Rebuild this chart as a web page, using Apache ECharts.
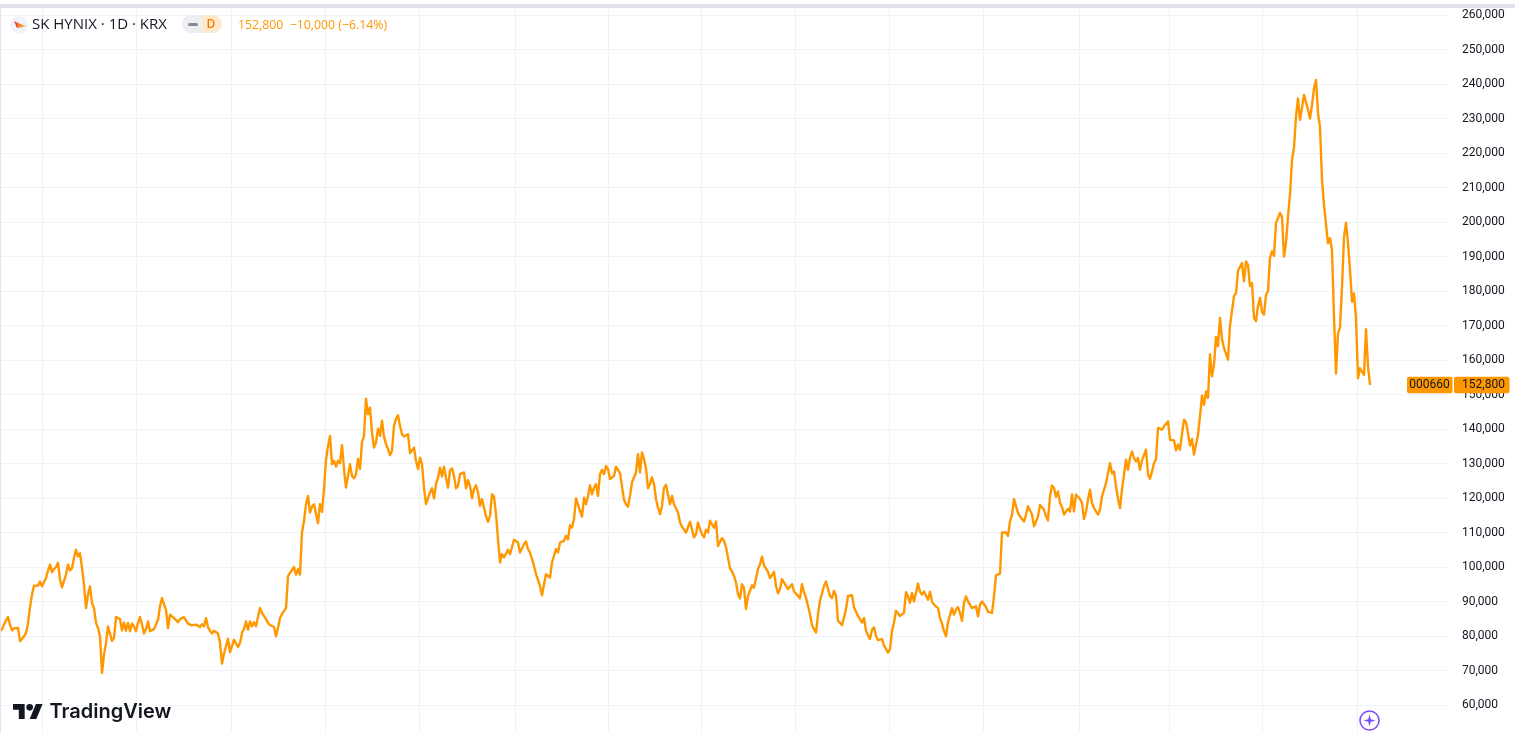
<!DOCTYPE html>
<html>
<head>
<meta charset="utf-8">
<title>SK HYNIX 1D KRX</title>
<script src="https://cdn.jsdelivr.net/npm/echarts@6/dist/echarts.min.js"></script>
<style>
  html, body { margin: 0; padding: 0; background: #fff; overflow: hidden; }
  #chart { width: 1515px; height: 732px; }
</style>
</head>
<body>
<div id="chart"></div>
<script>
// daily close in thousands of KRW
const closesK = [
  81.4,82,83.3,84.5,85.5,83.3,81.6,82.2,82.6,82.3,78.5,78.2,79.9,80.8,83.8,88.3,92,94.6,94.4,94.6,
  95.8,94.4,94.2,96.8,99,100.7,98.5,99.4,100,101.2,96.3,94.1,93.7,97.8,100.7,99,99.7,102.6,105,103.1,
  104,99.7,94.9,88.1,92,94.4,89.6,88.1,83.8,82.3,79.9,69.3,74.6,78,82.8,83.3,78.6,79.4,85.5,85.2,
  84.9,81.6,83.9,81.5,83.8,81.4,83.6,82.8,81.4,83.8,85.5,83.3,80.7,82,84.2,81.4,81.8,82,81.8,84.7,
  88.6,91,91,87.6,82.3,86.2,86.2,85.2,85.2,84,84.9,84.7,85.5,85.2,83.6,83.1,83.1,83,83.3,83.8,
  82.6,83.4,82.8,85.2,82.5,81.5,80.7,81.5,81.4,80.7,78,72,74.9,77,79.2,75.3,75.5,78.9,79.4,76.8,
  78,80.9,82.1,84.2,81.8,84.2,82.8,84,82.8,83,88.1,86.7,87.1,84.9,83.8,83.2,83,82.6,79.9,82.3,
  85.2,86.4,86.7,88.1,97.3,98.3,98.3,100,97.8,99.4,97.8,
  110,113.4,118.2,120.6,115.8,117.5,118.2,118.2,112.7,118.2,116,122.6,131,135.1,138,129.8,130.8,129.1,130.8,130.1,
  135.3,128.4,123,126.4,129.8,126.4,125.7,126.9,131.3,128.4,136.1,138,148.8,144.3,146.2,139,134.6,136.1,140.1,138,
  142.4,137.8,135.6,134.2,132.4,133.7,140.9,143,144,140.9,138.5,137.8,138.2,138.5,133,132.7,134.6,130.8,128.4,131.7,
  129.8,123,118.2,117.7,121.6,122.8,119.9,124,125.9,128.8,126.2,129.1,125.9,123,127.9,128.6,126.4,122.8,123.5,126.9,
  126.9,127.4,122.8,125.2,123.5,119.9,122.6,123.7,121.6,117.7,119.7,117.2,114.8,113.1,114.8,121.1,120.4,115.3,108.1,101.3,
  103.7,102.8,103.2,105,103.7,104,107.9,107.8,107.1,104.2,104.2,106.6,107.4,105.2,104.2,103.7,100.3,97.9,96.3,94.5,
  91.8,95,97.9,97.4,96.9,101.3,101.8,105.2,104.2,107.1,106.6,107.6,109,108,112.1,111.4,113.9,119.9,119.7,116.3,
  114.6,120.1,118.2,120.6,123.7,121.1,123,124,120.6,126.9,
  128.2,126.9,129.3,128.4,125.5,125,126.4,129.1,128.6,127.2,126.9,119.5,118.2,117.5,120.6,124.5,124.5,127.4,132.7,127.4,
  133.2,131.3,128.6,122.8,124,126,124,119.7,117.2,115.3,117.7,123,123.8,123.8,118.2,120.6,118.2,117,115.8,112.9,
  111.7,111.7,110,110,113.1,112.9,108.6,109.5,112.9,111,109.5,108.6,110.8,110,113.4,113.9,111.4,113.2,106.1,105.7,
  108.4,107.6,105.7,105.7,99.6,98.7,97.4,95.5,92.1,90.9,95,94,87.8,91.6,93.1,94.7,94,94.3,99.4,100.8,
  103,100.5,100.5,98.6,96.8,97.6,98.6,94.5,92.4,93.6,96.5,97,94.5,93.6,93.4,95,92.9,92.3,91.8,90.9,
  95,92.6,91.1,88.7,86.3,83.1,82,81,86.3,90.2,90.4,94.5,95.8,96,91.6,91,93.1,91.6,84.4,83.9,
  83.1,85.4,87.8,91.6,91.6,91.8,88.3,87.8,85.8,86.3,83.9,85.2,81.5,80.2,79.1,81.8,82.5,80,78.8,78.6,
  79.1,77.3,77,75.2,76.2,81.5,83.9,87.3,86.8,85.8,
  85.7,86.7,92.7,91.5,89.6,92.5,90,92.5,95.2,92.9,92,92.9,92.5,90.5,92.8,89.9,89.1,88.6,88.1,85.2,
  83.6,81.4,79.9,84,84.5,88.1,86.2,87.6,88.4,86.7,84.4,89.6,91.5,90,89.1,88.1,88.4,88.6,85.7,89.1,
  90,89.6,88.4,87,86.5,86.7,91.5,97.6,98.1,98.1,110,109.9,110,109,113.2,115.2,119.7,119.3,115.7,114.7,
  114.2,113.2,115.2,117.6,118,115.2,111.8,113.2,114.7,118,117.8,116.6,114.7,113.5,120.5,123.6,122.9,120.3,121.9,118.6,
  117.4,115.2,115.5,116.9,116.1,121,116.1,121,121.4,119.7,118.6,113.9,116.1,119.5,122.4,118.6,117.1,117.1,115.2,116.6,
  120.5,120,124.3,124.5,130.1,127.1,127.7,123.4,119.8,117.1,122.4,126.8,131.1,128.2,131.6,133.5,131.6,130.6,131.6,128.2,
  130.9,131.1,134,126.8,125.6,127.7,130.1,131.3,140.3,140.3,139.8,140.8,141,142.2,136.9,137.1,136.7,133.8,135.5,
  134,138.6,142.7,142,138.8,135.2,137.1,132.6,133,138.3,143.7,149.7,147,150.9,149,161.7,155.3,158.6,166.7,164,
  172.2,166.1,163.5,163.5,160.1,170,169.8,178.5,179.4,185.9,186.4,188.1,182.8,188.6,187.6,181.4,182.3,172.2,171.3,175.6,
  178,173.9,173.2,178.9,180,189.6,191.5,190.2,199.7,199.2,202.6,
  201.5,190,194,201.5,208.1,218,221.6,230.5,235.8,229.6,229.6,236.8,236.3,232.5,230,233.9,238.7,241.2,231.5,227.5,
  212.2,204.9,205.4,193.8,195.3,191.9,172.6,156.1,167.7,169.3,181,195.7,199.8,193.8,186.1,176.9,179.3,172,154.7,157.6,
  156.6,155.7,168.9,158.1,152.8
];
const closes = closesK.map(v => v * 1000);

// slot index of every vertical grid line, the axis runs past the last bar
const gridSlots = [21.25,68.25,115.75,162.75,209.75,257.5,304,350.5,397.5,444.5,491.5,539.5,584.5,631,678.5];
const slotCount = 724;

const lastPrice = 152800;
const priceChange = -10000;
const priceChangePct = -6.14;
const symbolName = 'SK HYNIX · 1D · KRX';
const tickerCode = '000660';

const fmt = v => v.toLocaleString('en-US');
const minus = s => s.replace('-', '−');

const chart = echarts.init(document.getElementById('chart'), null, { renderer: 'canvas' });

const labelFont = 'Roboto, "Open Sans", sans-serif';
const ink = '#131722';
const orange = '#ff9800';
const gridColor = '#f1f2f5';
const violet = '#7b4dff';

// scale the TradingView mark from its 36 unit box
const logoPt = (x, y) => [13 + x * 0.833, 700.7 + y * 0.833];

chart.setOption({
  animation: false,
  backgroundColor: '#ffffff',
  // the axis runs one step past both edges so 60,000 and 260,000 land where they should
  grid: { left: 0, right: 67, top: -19.5, bottom: -7.5, outerBoundsMode: 'none' },
  xAxis: {
    type: 'value',
    min: 0,
    max: slotCount,
    axisLine: { show: false },
    axisTick: { show: false },
    axisLabel: { show: false },
    splitLine: { show: false }
  },
  yAxis: {
    type: 'value',
    position: 'right',
    min: 50000,
    max: 270000,
    interval: 10000,
    axisLine: { show: true, lineStyle: { color: gridColor } },
    axisTick: { show: true, length: 5, lineStyle: { color: gridColor } },
    axisLabel: {
      color: ink,
      fontFamily: labelFont,
      fontSize: 12,
      margin: 14,
      formatter: v => (v < 60000 || v > 260000) ? '' : fmt(v)
    },
    splitLine: { show: true, lineStyle: { color: gridColor, width: 1 } }
  },
  series: [{
    type: 'line',
    data: closes.map((v, i) => [i, v]),
    showSymbol: false,
    symbol: 'none',
    lineStyle: { color: orange, width: 2.4, join: 'round' },
    silent: true,
    z: 3,
    markLine: {
      silent: true,
      symbol: 'none',
      z: 1,
      label: { show: false },
      lineStyle: { color: gridColor, width: 1, type: 'solid' },
      data: gridSlots.map(s => ({ xAxis: s }))
    }
  }]
});

const tagY = chart.convertToPixel({ yAxisIndex: 0 }, lastPrice);

chart.setOption({
  graphic: [
    // top band and left edge
    { type: 'rect', z: 50, shape: { x: 0, y: 0, width: 1515, height: 4 }, style: { fill: '#ffffff' } },
    { type: 'rect', z: 50, shape: { x: 0, y: 4, width: 1515, height: 4 }, style: { fill: '#e0e3eb' } },
    { type: 'rect', z: 50, shape: { x: 0, y: 8, width: 1, height: 724 }, style: { fill: '#e0e3f5' } },

    // header
    { type: 'circle', z: 60, shape: { cx: 19, cy: 25, r: 9 }, style: { fill: '#f0f3fa' } },
    { type: 'polygon', z: 61, shape: { points: [[14, 21], [22, 25], [17, 28]] }, style: { fill: '#ef3b2d' } },
    { type: 'polygon', z: 61, shape: { points: [[16, 23], [26, 26], [19, 28]] }, style: { fill: '#f7931e', opacity: 0.85 } },
    { type: 'text', z: 60, style: { x: 32, y: 25, text: symbolName, fill: ink, font: '15px "Open Sans", sans-serif', verticalAlign: 'middle' } },

    { type: 'rect', z: 60, shape: { x: 182, y: 15, width: 40, height: 18, r: 9 }, style: { fill: '#eceef2' } },
    { type: 'rect', z: 61, shape: { x: 202, y: 15, width: 20, height: 18, r: [0, 9, 9, 0] }, style: { fill: '#ffe9cc' } },
    { type: 'rect', z: 62, shape: { x: 188, y: 23, width: 10, height: 3, r: 1.5 }, style: { fill: '#868993' } },
    { type: 'text', z: 62, style: { x: 211, y: 24.5, text: 'D', fill: '#f57c00', font: '600 12px "Open Sans", sans-serif', align: 'center', verticalAlign: 'middle' } },
    { type: 'text', z: 60, style: { x: 238, y: 25, text: fmt(lastPrice) + '  ' + minus(fmt(priceChange)) + ' (' + minus(String(priceChangePct)) + '%)', fill: orange, font: '12.3px "Open Sans", sans-serif', verticalAlign: 'middle' } },

    // last price tags
    { type: 'rect', z: 70, shape: { x: 1407, y: tagY - 8, width: 45.5, height: 16.5, r: 2 }, style: { fill: orange } },
    { type: 'rect', z: 70, shape: { x: 1454, y: tagY - 8, width: 55.5, height: 16.5, r: 2 }, style: { fill: orange } },
    { type: 'text', z: 71, style: { x: 1429.5, y: tagY + 0.5, text: tickerCode, fill: ink, font: '12px ' + labelFont, align: 'center', verticalAlign: 'middle' } },
    { type: 'text', z: 71, style: { x: 1483.5, y: tagY + 0.5, text: fmt(lastPrice), fill: ink, font: '12px ' + labelFont, align: 'center', verticalAlign: 'middle' } },

    // TradingView mark
    { type: 'polygon', z: 60, shape: { points: [[14, 22], [7, 22], [7, 11], [0, 11], [0, 4], [14, 4]].map(p => logoPt(p[0], p[1])) }, style: { fill: ink } },
    { type: 'polygon', z: 60, shape: { points: [[28, 22], [20, 22], [27.5, 4], [35.5, 4]].map(p => logoPt(p[0], p[1])) }, style: { fill: ink } },
    { type: 'circle', z: 60, shape: { cx: logoPt(20, 8)[0], cy: logoPt(20, 8)[1], r: 4 * 0.833 }, style: { fill: ink } },
    { type: 'text', z: 60, style: { x: 49.5, y: 712, text: 'TradingView', fill: ink, font: '600 20px Inter, sans-serif', verticalAlign: 'middle' } },

    // assistant button
    { type: 'circle', z: 60, shape: { cx: 1369.5, cy: 720.5, r: 9.5 }, style: { fill: '#ffffff', stroke: violet, lineWidth: 1.6 } },
    { type: 'polygon', z: 61, shape: { points: [[1369.5, 714.5], [1370.8, 719.2], [1375.5, 720.5], [1370.8, 721.8], [1369.5, 726.5], [1368.2, 721.8], [1363.5, 720.5], [1368.2, 719.2]] }, style: { fill: violet } }
  ]
});
</script>
</body>
</html>
